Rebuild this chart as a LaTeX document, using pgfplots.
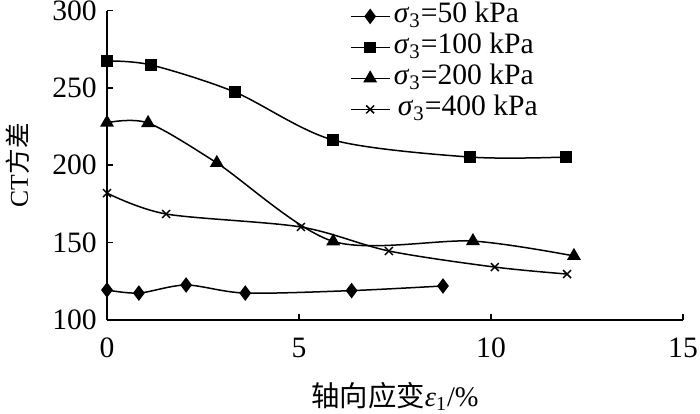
\documentclass[border=0pt]{standalone}
\usepackage{fontspec}
\setmainfont{Liberation Serif}
\newfontfamily\cjk{Noto Sans CJK SC}
\usepackage{pgfplots}
\pgfplotsset{compat=1.18}
\usetikzlibrary{calc}
\begin{document}
\begin{tikzpicture}
\begin{axis}[
  scale only axis,
  width=288pt, height=154.75pt,
  xmin=0, xmax=15, ymin=100, ymax=300,
  xtick={0,5,10,15}, ytick={100,150,200,250,300},
  axis x line*=bottom, axis y line*=left,
  axis line style={-, line width=1pt},
  tick align=inside,
  major tick length=3pt,
  tick style={line width=0.8pt, black},
  /pgf/number format/assume math mode=true,
  tick label style={font=\fontsize{14.8}{17}\selectfont},
  yticklabel style={xshift=-1.6pt},
  xticklabel style={yshift=-5.5pt},
  xlabel={{\cjk 轴向应变}\textit{ε}\textsubscript{1}/\%},
  ylabel={CT{\cjk 方差}},
  xlabel style={font=\fontsize{14.2}{16}\selectfont, at={(axis description cs:0.5,-0.2475)}, anchor=center},
  ylabel style={font=\fontsize{12.8}{15}\selectfont, at={(axis description cs:-0.1545,0.5)}, anchor=center},
  clip=false,
  legend cell align=left,
  legend style={draw=none, fill=none, at={(rel axis cs:0.4219,1)}, anchor=north west, yshift=5pt,
    font=\fontsize{14.8}{17}\selectfont, inner sep=0pt, row sep=0pt,
    nodes={inner ysep=0pt, inner xsep=2pt, text height=11pt, text depth=4.5pt},
    /tikz/every even column/.append style={column sep=1pt}},
  legend image code/.code={\draw[mark repeat=2,mark phase=2,#1] plot coordinates {(0pt,0pt)(9.5pt,0pt)(19pt,0pt)};},
  every axis plot/.append style={line width=0.75pt, black, smooth, tension=0.5},
]
\addplot[mark=diamond*, mark size=3.3pt, mark options={solid}] coordinates {
 (0,119.4) (0.83,117.4) (2.06,122.6) (3.6,117.4) (6.37,119.0) (8.75,122)};
\addlegendentry{\textit{σ}\textsubscript{3}=50 kPa}
\addplot[mark=square*, mark size=2.5pt, mark options={solid}] coordinates {
 (0,267.4) (1.15,264.8) (3.33,247.3) (5.89,216.3) (9.45,205.3) (11.95,205.3)};
\addlegendentry{\textit{σ}\textsubscript{3}=100 kPa}
\addplot[mark=triangle*, mark size=3.3pt, mark options={solid}] coordinates {
 (0,227.5) (1.07,227.3) (2.86,201.5) (5.89,150.8) (9.53,151) (12.16,141.4)};
\addlegendentry{\textit{σ}\textsubscript{3}=200 kPa}
\addplot[mark=x, mark size=2.8pt, mark options={solid}] coordinates {
 (0,182) (1.54,168.5) (5.05,160.1) (7.34,144.6) (10.1,134.2) (11.98,129.7)};
\addlegendentry{\hspace{2pt}\textit{σ}\textsubscript{3}=400 kPa}
\end{axis}
\pgfresetboundingbox
\path[use as bounding box] ($(current axis.south west)+(-53.5pt,-46.5pt)$) rectangle ($(current axis.north east)+(8.5pt,5.25pt)$);
\end{tikzpicture}
\end{document}
